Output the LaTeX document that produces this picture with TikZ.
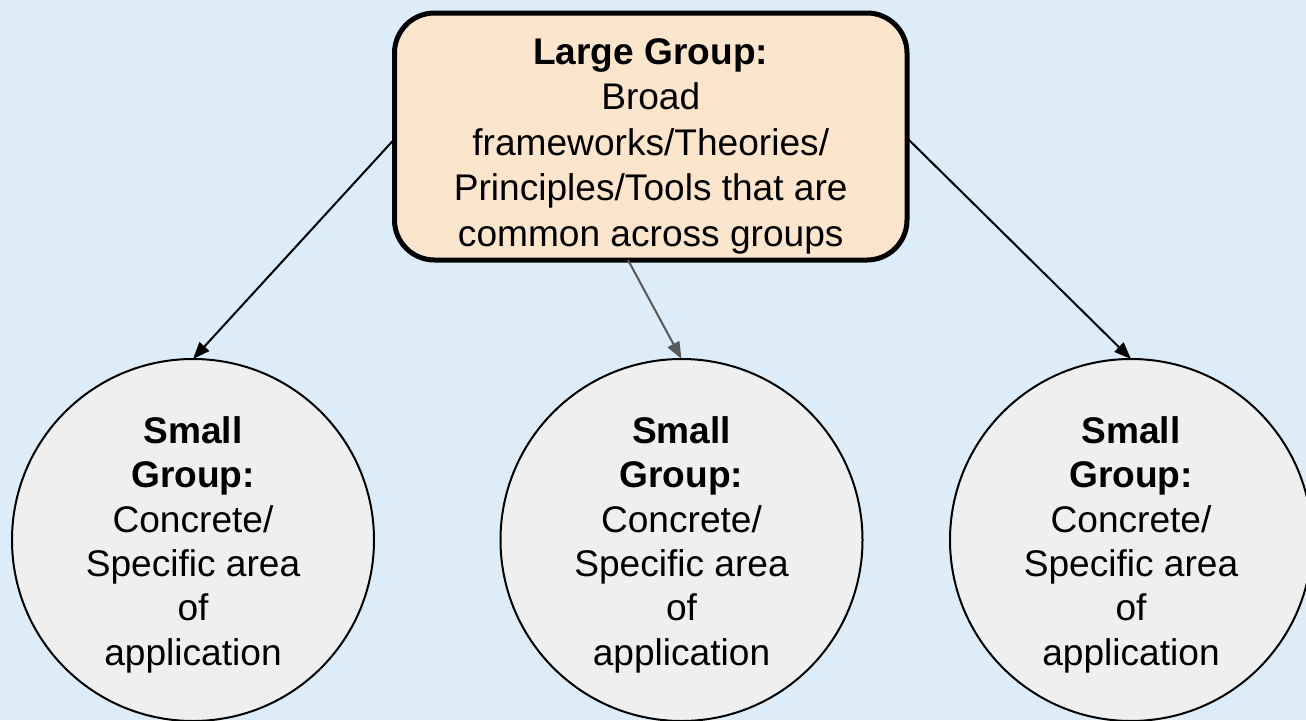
\documentclass[tikz,border=0pt]{standalone}
\usepackage{fontspec}
\setmainfont{Liberation Sans}
\usetikzlibrary{arrows.meta}
\definecolor{bgblue}{RGB}{220,236,249}
\definecolor{peach}{HTML}{FCE5CD}
\definecolor{lightgray}{HTML}{EFEFEF}
\definecolor{darkgray}{HTML}{595959}
\tikzset{
  bigbox/.style={draw,line width=5pt,rounded corners=40pt,fill=peach,minimum width=512.5pt,minimum height=247pt,inner sep=0pt,outer sep=0pt},
  smallcirc/.style={draw,circle,line width=2pt,fill=lightgray,minimum size=362pt,inner sep=0pt,outer sep=0pt},
  boxtext/.style={align=center,font=\fontsize{37.1}{45.5}\selectfont,inner sep=0pt},
  circtext/.style={align=center,font=\fontsize{37.1}{44.4}\selectfont,inner sep=0pt},
  link/.style={line width=2pt,-{Triangle[length=17pt,width=13pt]}}
}
\begin{document}
\begin{tikzpicture}[x=1pt,y=-1pt]
\useasboundingbox (0,0) rectangle (1306,720);
\fill[bgblue] (0,0) rectangle (1306,720);
\node[bigbox] (large) at (650.75,136.5) {};
\node[boxtext] (largetext) at (650.75,146) {\textbf{Large Group:}\\Broad\\frameworks/Theories/\\Principles/Tools that are\\common across groups};
\node[smallcirc] (left) at (193,540) {};
\node[smallcirc] (mid) at (681.5,540) {};
\node[smallcirc] (right) at (1131,540) {};
\foreach \c in {left,mid,right}
  \node[circtext] (\c text) at ([yshift=-4.6pt]\c.center) {\textbf{Small}\\\textbf{Group:}\\Concrete/\\Specific area\\of\\application};
\draw[link] ([yshift=-2.5pt]large.west) -- (left.north);
\draw[link,darkgray] ([xshift=-22.75pt]large.south) -- (mid.north);
\draw[link] ([yshift=-1.5pt]large.east) -- (right.north);
\end{tikzpicture}
\end{document}
